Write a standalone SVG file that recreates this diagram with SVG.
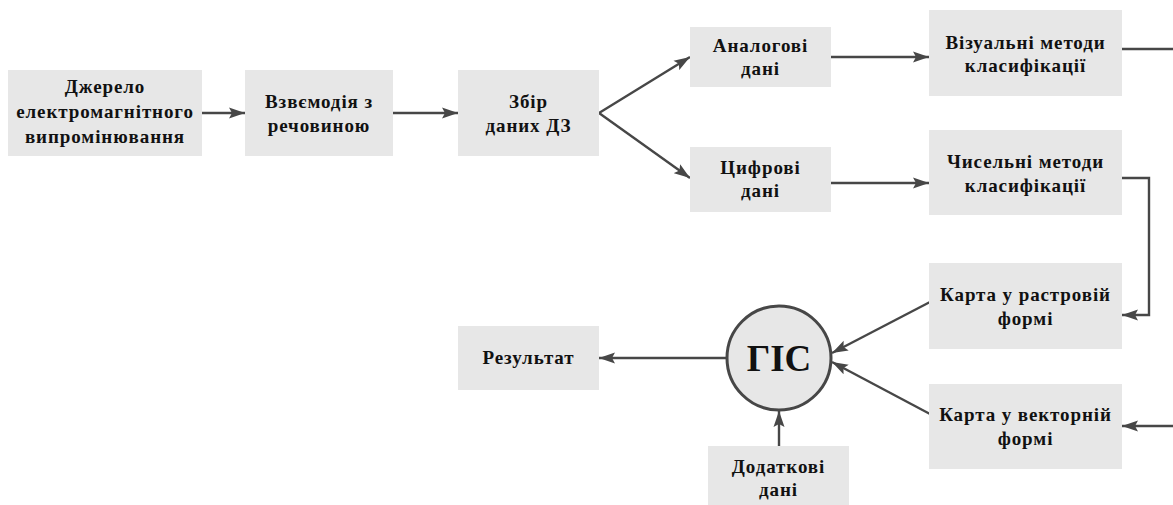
<svg xmlns="http://www.w3.org/2000/svg" width="1173" height="505" viewBox="0 0 1173 505">
  <style>
    .box { fill: #e7e7e7; }
    .lbl { font-weight: bold; font-size: 19px; letter-spacing: 0.9px; fill: #111; text-anchor: middle; }
    .gis { font-weight: bold; font-size: 37px; fill: #111; text-anchor: middle; }
    .edge { fill: none; stroke: #474747; stroke-width: 2.4; }
  </style>
  <defs>
    <marker id="arrow" markerUnits="userSpaceOnUse" markerWidth="18" markerHeight="12" refX="16" refY="6" orient="auto">
      <path d="M0,0.5 L16,6 L0,11.5 L3,6 z" fill="#474747"/>
    </marker>
  </defs>
  <rect width="1173" height="505" fill="#ffffff"/>

  <g id="connectors">
    <line class="edge" x1="202" y1="113" x2="245" y2="113" marker-end="url(#arrow)"/>
    <line class="edge" x1="393" y1="113" x2="458" y2="113" marker-end="url(#arrow)"/>
    <line class="edge" x1="599" y1="113" x2="690" y2="57" marker-end="url(#arrow)"/>
    <line class="edge" x1="599" y1="113" x2="690" y2="178" marker-end="url(#arrow)"/>
    <line class="edge" x1="831" y1="57" x2="929" y2="57" marker-end="url(#arrow)"/>
    <line class="edge" x1="831" y1="183" x2="929" y2="183" marker-end="url(#arrow)"/>
    <!-- visual methods: leaves to the right, returns into the vector map -->
    <line class="edge" x1="1122" y1="49" x2="1180" y2="49"/>
    <line class="edge" x1="1180" y1="426" x2="1122" y2="426" marker-end="url(#arrow)"/>
    <!-- numerical methods into the raster map -->
    <polyline class="edge" points="1122,178 1149,178 1149,315 1122,315" marker-end="url(#arrow)"/>
    <line class="edge" x1="930" y1="302" x2="832" y2="353" marker-end="url(#arrow)"/>
    <line class="edge" x1="930" y1="414" x2="832" y2="362" marker-end="url(#arrow)"/>
    <line class="edge" x1="727" y1="358" x2="599" y2="358" marker-end="url(#arrow)"/>
    <line class="edge" x1="779" y1="446" x2="779" y2="411" marker-end="url(#arrow)"/>
  </g>

  <g font-family="Liberation Serif, Times New Roman, Times, DejaVu Serif, serif">
  <g id="source">
    <rect class="box" x="8" y="70" width="194" height="86"/>
    <text class="lbl" x="105" y="93">Джерело</text>
    <text class="lbl" x="105" y="118">електромагнітного</text>
    <text class="lbl" x="105" y="143">випромінювання</text>
  </g>
  <g id="interaction">
    <rect class="box" x="245" y="70" width="148" height="86"/>
    <text class="lbl" x="319" y="108">Взвємодія з</text>
    <text class="lbl" x="319" y="132">речовиною</text>
  </g>
  <g id="collection">
    <rect class="box" x="458" y="70" width="141" height="86"/>
    <text class="lbl" x="528.5" y="108">Збір</text>
    <text class="lbl" x="528.5" y="132">даних ДЗ</text>
  </g>
  <g id="analog">
    <rect class="box" x="690" y="27" width="141" height="60"/>
    <text class="lbl" x="760.5" y="52">Аналогові</text>
    <text class="lbl" x="760.5" y="75">дані</text>
  </g>
  <g id="digital">
    <rect class="box" x="690" y="147" width="141" height="65"/>
    <text class="lbl" x="760.5" y="174">Цифрові</text>
    <text class="lbl" x="760.5" y="197">дані</text>
  </g>
  <g id="visual">
    <rect class="box" x="929" y="10" width="193" height="86"/>
    <text class="lbl" x="1025.5" y="49">Візуальні методи</text>
    <text class="lbl" x="1025.5" y="72">класифікації</text>
  </g>
  <g id="numerical">
    <rect class="box" x="929" y="130" width="193" height="85"/>
    <text class="lbl" x="1025.5" y="168">Чисельні методи</text>
    <text class="lbl" x="1025.5" y="192">класифікації</text>
  </g>
  <g id="raster">
    <rect class="box" x="929" y="263" width="193" height="86"/>
    <text class="lbl" x="1025.5" y="301">Карта у растровій</text>
    <text class="lbl" x="1025.5" y="325">формі</text>
  </g>
  <g id="vector">
    <rect class="box" x="929" y="384" width="193" height="85"/>
    <text class="lbl" x="1025.5" y="421">Карта у векторній</text>
    <text class="lbl" x="1025.5" y="445">формі</text>
  </g>
  <g id="result">
    <rect class="box" x="458" y="326" width="141" height="64"/>
    <text class="lbl" x="528.5" y="364">Результат</text>
  </g>
  <g id="gis">
    <circle cx="779" cy="358" r="52" fill="#e7e7e7" stroke="#474747" stroke-width="3"/>
    <text class="gis" x="779" y="371">ГІС</text>
  </g>
  <g id="extra">
    <rect class="box" x="708" y="446" width="141" height="66"/>
    <text class="lbl" x="778.5" y="473">Додаткові</text>
    <text class="lbl" x="778.5" y="496">дані</text>
  </g>
  </g>
</svg>
